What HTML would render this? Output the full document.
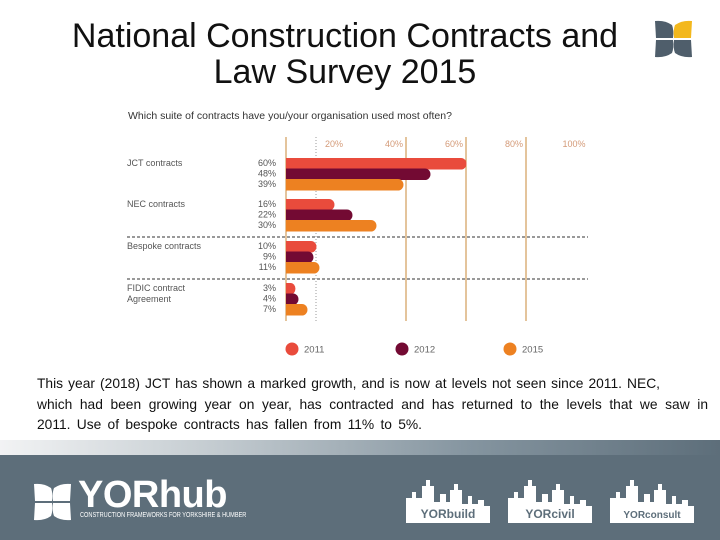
<!DOCTYPE html>
<html><head><meta charset="utf-8"><style>
body{margin:0;width:720px;height:540px;overflow:hidden;background:#fff;font-family:"Liberation Sans",sans-serif;position:relative}
.title{position:absolute;left:20px;top:18px;width:650px;text-align:center;font-family:"Liberation Sans",sans-serif;font-size:34px;line-height:36px;color:#111;letter-spacing:0px}
.para{position:absolute;left:37px;top:374px;width:690px;font-size:13.8px;line-height:20.5px;color:#111;white-space:nowrap}
.para span{display:block;text-align:justify;text-align-last:justify}
.footer{position:absolute;left:0;top:455px;width:720px;height:85px;background:#5d6e7a}
.band{position:absolute;left:0;top:440px;width:720px;height:15px;background:linear-gradient(90deg,#f2f3f4,#c3cbd0 30%,#8595a0 65%,#5d6e7a)}
</style></head><body>
<div class="title">National Construction Contracts and<br>Law Survey 2015</div>
<svg style="position:absolute;left:655px;top:20px" width="38" height="38">
<path d="M0 1 Q10 0 17 5 Q19 10 18 18 L1 18 Z" fill="#4f5e6b"/>
<path d="M37 1 Q27 0 20 5 Q18 10 19 18 L36 18 Z" fill="#f3b81d"/>
<path d="M0 37 Q10 38 17 33 Q19 28 18 20 L1 20 Z" fill="#4f5e6b"/>
<path d="M37 37 Q27 38 20 33 Q18 28 19 20 L36 20 Z" fill="#4f5e6b"/>
</svg>
<svg id="chart" style="position:absolute;left:0;top:0" width="720" height="370"></svg>
<div class="para"><span style="width:623px">This year (2018) JCT has shown a marked growth, and is now at levels not seen since 2011. NEC,</span><span style="width:671px">which had been growing year on year, has contracted and has returned to the levels that we saw in</span><span style="width:385px">2011. Use of bespoke contracts has fallen from 11% to 5%.</span></div>
<div class="band"></div>
<div class="footer">
<svg style="position:absolute;left:34px;top:28px" width="38" height="38">
<path d="M0 1 Q10 0 17 5 Q19 10 18 18 L1 18 Z M37 1 Q27 0 20 5 Q18 10 19 18 L36 18 Z M0 37 Q10 38 17 33 Q19 28 18 20 L1 20 Z M37 37 Q27 38 20 33 Q18 28 19 20 L36 20 Z" fill="#fff"/></svg>
<div style="position:absolute;left:78px;top:19px;font-size:38px;font-weight:bold;color:#fff;letter-spacing:-0.5px">YORhub</div>
<div style="position:absolute;left:80px;top:57px;font-size:7px;color:#fff;transform:scaleX(0.8);transform-origin:left">CONSTRUCTION FRAMEWORKS FOR YORKSHIRE &amp; HUMBER</div>
<div id="logos"></div>
</div>
<script>
const categories=["JCT contracts","NEC contracts","Bespoke contracts","FIDIC contract Agreement"];
const years=["2011","2012","2015"];
const v2011=[60,16,10,3];
const v2012=[48,22,9,4];
const v2015=[39,30,11,7];
const ticks=[20,40,60,80,100];
const gridVals=[40,60,80];
const colors=["#e94b3c","#730a33","#ed8121"];
const NS="http://www.w3.org/2000/svg";
const svg=document.getElementById("chart");
const x0=286, pxPer=3.0;
const xs=v=>x0+v*pxPer;
const groupTop=[158,199,241,283], barH=10.5;
function mk(t,a,parent){const e=document.createElementNS(NS,t);for(const k in a)e.setAttribute(k,a[k]);(parent||svg).appendChild(e);return e;}
const q=mk("text",{x:128,y:119,"font-size":"10.5","fill":"#333"});q.textContent="Which suite of contracts have you/your organisation used most often?";


const al=mk("line",{x1:x0,x2:x0,y1:137,y2:321,stroke:"#c8883a","stroke-width":1});


const dl=mk("line",{x1:xs(10),x2:xs(10),y1:137,y2:321,stroke:"#999","stroke-width":1,"stroke-dasharray":"1,2"});


gridVals.forEach(t=>{
 const g=mk("line",{x1:xs(t),x2:xs(t),y1:137,y2:321,stroke:"#c8883a","stroke-width":1});
 
 
});
ticks.forEach(t=>{
 const tx=mk("text",{x:xs(t)-12,y:147,"font-size":"9","fill":"#d49a78","text-anchor":"middle"});tx.textContent=t+"%";
 
 
});
[237,279].forEach((y,i)=>{const d=mk("line",{x1:127,x2:588,y1:y,y2:y,stroke:"#333","stroke-width":1,"stroke-dasharray":"3,2"});

});
const series=[v2011,v2012,v2015];
categories.forEach((c,i)=>{
 const words=c==="FIDIC contract Agreement"?["FIDIC contract","Agreement"]:[c];
 words.forEach((w,j)=>{const t=mk("text",{x:127,y:groupTop[i]+8+j*11,"font-size":"9","fill":"#555"});t.textContent=w;
 
 });
 series.forEach((s,k)=>{
  const y=groupTop[i]+k*barH;
  const w=s[i]*pxPer;
  const r=Math.min(5,w/2);
  const b=mk("path",{d:`M${x0} ${y} H${x0+w-r} A${r} ${barH/2} 0 0 1 ${x0+w-r} ${y+barH+1} H${x0} Z`,fill:colors[k]});
  
  
  const l=mk("text",{x:276,y:y+8,"font-size":"9","fill":"#555","text-anchor":"end"});l.textContent=s[i]+"%";
  
  
 });
});
const lx=[292,402,510];
years.forEach((yr,k)=>{
 const c=mk("circle",{cx:lx[k],cy:349,r:6.5,fill:colors[k]});
 
 
 const t=mk("text",{x:lx[k]+12,y:352.5,"font-size":"9.5","fill":"#666"});t.textContent=yr;
 
 
});
const names=["YORbuild","YORcivil","YORconsult"];
const lg=document.getElementById("logos");
names.forEach((n,i)=>{
 const x=406+i*102;
 const s=document.createElementNS(NS,"svg");
 s.setAttribute("width","84");s.setAttribute("height","45");
 s.style.position="absolute";s.style.left=x+"px";s.style.top="23px";
 
 
 s.innerHTML=`<path d="M0 45 V20 H6 V14 H10 V20 H16 V8 H20 V2 H24 V8 H28 V24 H34 V16 H40 V24 H44 V12 H48 V6 H52 V12 H56 V26 H62 V18 H66 V26 H72 V22 H78 V28 H84 V45 Z" fill="#fff"/><text x="42" y="40" font-size="${n.length>9?10:12}" font-weight="bold" fill="#5d6e7a" text-anchor="middle" font-family="Liberation Sans, sans-serif">${n}</text>`;
 lg.appendChild(s);
});
</script>
</body></html>
